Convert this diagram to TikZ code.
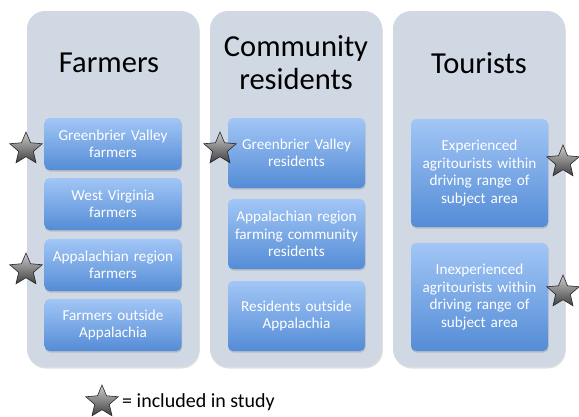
\documentclass[tikz,border=0pt]{standalone}
\usepackage{fontspec}
\setmainfont{Carlito}
\usetikzlibrary{shapes.geometric,shadows}
\definecolor{colfill}{RGB}{208,216,228}
\definecolor{boxtop}{RGB}{162,198,246}
\definecolor{boxbot}{RGB}{84,140,214}
\tikzset{
  column/.style={draw=none, fill=colfill, rounded corners=18pt,
    drop shadow={shadow xshift=0.8pt, shadow yshift=-1.5pt, opacity=0.25}},
  title/.style={font=\fontsize{30.5}{33}\selectfont, align=center, text=black},
  subbox/.style={rounded corners=5pt, top color=boxtop, bottom color=boxbot,
    draw=none, minimum width=137pt, text width=134pt, align=center,
    text=white, font=\fontsize{15.2}{17.5}\selectfont, inner sep=0pt,
    drop shadow={shadow xshift=0.6pt, shadow yshift=-1.6pt, opacity=0.3}},
  studystar/.style={star, star points=5, star point ratio=2.2,
    minimum size=34pt, inner sep=0pt, draw=black!85, line width=0.6pt,
    top color=black!20, bottom color=black!75}
}
\begin{document}
\begin{tikzpicture}[x=1pt,y=-1pt]
\useasboundingbox (0,0) rectangle (579,416);
% columns
\node[column, minimum width=172pt, minimum height=356pt] (c1) at (113,189) {};
\node[column, minimum width=172pt, minimum height=356pt] (c2) at (296,189) {};
\node[column, minimum width=172pt, minimum height=356pt] (c3) at (479,189) {};
% titles
\node[title] (t1) at (109,63) {Farmers};
\node[title] (t2) at (296,63) {Community\\residents};
\node[title] (t3) at (479,63) {Tourists};
% farmers
\node[subbox, minimum height=52pt] (f1) at (113,144) {Greenbrier Valley\\farmers};
\node[subbox, minimum height=52pt] (f2) at (113,204) {West Virginia\\farmers};
\node[subbox, minimum height=52pt] (f3) at (113,265) {Appalachian region\\farmers};
\node[subbox, minimum height=52pt] (f4) at (113,325) {Farmers outside\\Appalachia};
% residents
\node[subbox, minimum height=70pt] (r1) at (296.5,153) {Greenbrier Valley\\residents};
\node[subbox, minimum height=70pt] (r2) at (296.5,234) {Appalachian region\\farming community\\residents};
\node[subbox, minimum height=70pt] (r3) at (296.5,316) {Residents outside\\Appalachia};
% tourists
\node[subbox, minimum height=108pt] (u1) at (479.5,173) {Experienced\\agritourists within\\driving range of\\subject area};
\node[subbox, minimum height=108pt] (u2) at (479.5,297) {Inexperienced\\agritourists within\\driving range of\\subject area};
% stars
\node[studystar] (s1) at (26,149) {};
\node[studystar] (s2) at (26,270) {};
\node[studystar] (s3) at (220,149) {};
\node[studystar] (s4) at (563,162) {};
\node[studystar] (s5) at (563,292) {};
% legend
\node[studystar] (ls) at (102,402) {};
\node[anchor=west, font=\fontsize{20}{24}\selectfont, inner sep=0pt] (lt) at (122,402) {= included in study};
\end{tikzpicture}
\end{document}
